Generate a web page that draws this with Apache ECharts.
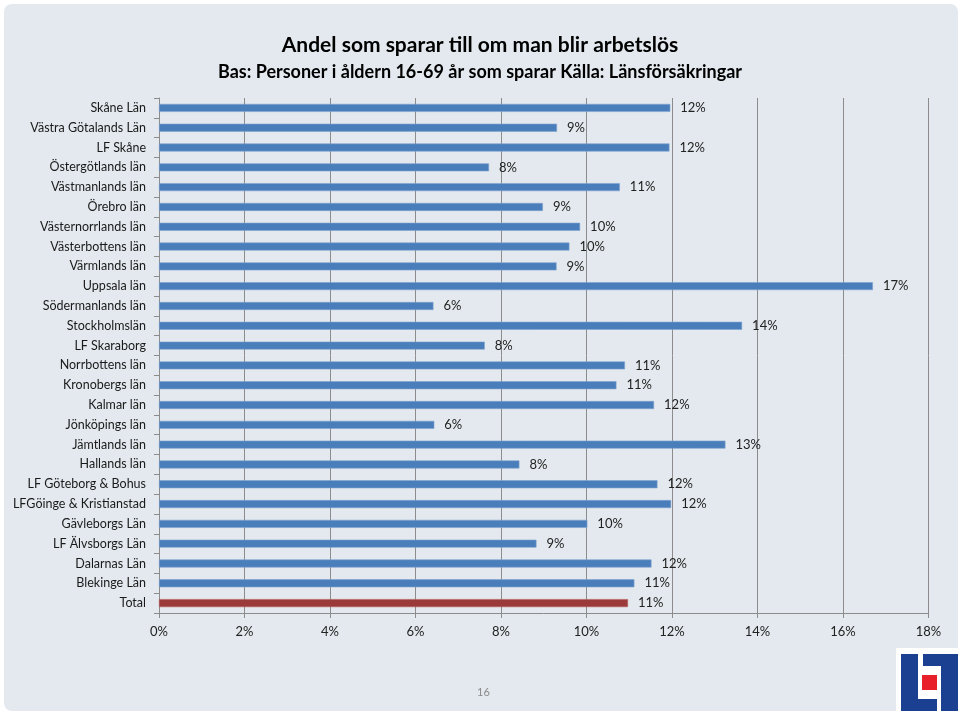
<!DOCTYPE html>
<html>
<head>
<meta charset="utf-8">
<script src="https://cdn.jsdelivr.net/npm/echarts@6/dist/echarts.min.js"></script>
<style>html,body{margin:0;padding:0;background:#fff}#c{width:960px;height:716px}</style>
</head>
<body>
<div id="c"></div>
<script>
const categories = ["Skåne Län","Västra Götalands Län","LF Skåne","Östergötlands län","Västmanlands län","Örebro län","Västernorrlands län","Västerbottens län","Värmlands län","Uppsala län","Södermanlands län","Stockholmslän","LF Skaraborg","Norrbottens län","Kronobergs län","Kalmar län","Jönköpings län","Jämtlands län","Hallands län","LF Göteborg & Bohus","LFGöinge & Kristianstad","Gävleborgs Län","LF Älvsborgs Län","Dalarnas Län","Blekinge Län","Total"];
const values = [11.96,9.31,11.94,7.72,10.78,8.98,9.85,9.6,9.3,16.7,6.42,13.64,7.62,10.9,10.7,11.58,6.44,13.25,8.43,11.66,11.98,10.02,8.83,11.52,11.12,10.97];
const titleText = "Andel som sparar till om man blir arbetslös";
const subtitleText = "Bas: Personer i åldern 16-69 år som sparar Källa: Länsförsäkringar";
const xTicks = [0,2,4,6,8,10,12,14,16,18];

const FONT = "Lato";
const chart = echarts.init(document.getElementById('c'), null, {renderer:'canvas'});
const data = values.map((v,i)=>({
  value:v,
  itemStyle: categories[i]==="Total" ? {color:'#9b3a3a', borderColor:'#b85a5a'} : {color:'#4a7ebb', borderColor:'#7fa3d0'}
}));
chart.setOption({
  backgroundColor:'#ffffff',
  animation:false,
  title:[{
    text:titleText, left:'center', top:30,
    textStyle:{fontFamily:FONT, fontWeight:'bold', fontSize:21, color:'#000'}
  },{
    text:subtitleText, left:'center', top:58,
    textStyle:{fontFamily:FONT, fontWeight:'bold', fontSize:18, color:'#000'}
  }],
  graphic:[
    {type:'rect', z:-10, shape:{x:4,y:4,width:954,height:707,r:8}, style:{fill:'#e3e9ee'}},
    {type:'text', left:477, top:687, style:{text:'16', fill:'#8a8a8a', font:'11px '+FONT}},
    {type:'rect', z:10, shape:{x:896,y:648,width:64,height:66}, style:{fill:'#ffffff'}},
    {type:'polygon', z:11, shape:{points:[[901,654],[918,654],[918,699],[937,699],[937,711],[901,711]]}, style:{fill:'#1b3f91'}},
    {type:'polygon', z:11, shape:{points:[[923,654],[958,654],[958,711],[941,711],[941,666],[923,666]]}, style:{fill:'#1b3f91'}},
    {type:'rect', z:11, shape:{x:922,y:675,width:15,height:15}, style:{fill:'#e8202a'}}
  ],
  grid:{left:159, right:31.5, top:98, bottom:103, containLabel:false},
  xAxis:{
    type:'value', min:0, max:18, interval:2,
    axisLine:{show:true, lineStyle:{color:'#8c8c8c', width:1}},
    axisTick:{show:true, length:5, lineStyle:{color:'#8c8c8c'}},
    splitLine:{show:true, lineStyle:{color:'#8c8c8c', width:1}},
    axisLabel:{formatter:v=>xTicks.includes(v)? v+'%':'', fontFamily:FONT, fontSize:13, color:'#222', margin:12}
  },
  yAxis:{
    type:'category', data:categories, inverse:true,
    axisLine:{show:true, lineStyle:{color:'#8c8c8c', width:1}},
    axisTick:{show:true, length:5, lineStyle:{color:'#8c8c8c'}},
    axisLabel:{fontFamily:FONT, fontSize:12.5, color:'#1a1a1a', margin:13}
  },
  series:[{
    type:'bar', data:data, barWidth:8,
    itemStyle:{borderWidth:0.6},
    label:{show:true, position:'right', distance:10, formatter:p=>Math.round(p.value)+'%', fontFamily:FONT, fontSize:13, color:'#222'}
  }]
});
</script>
</body>
</html>
